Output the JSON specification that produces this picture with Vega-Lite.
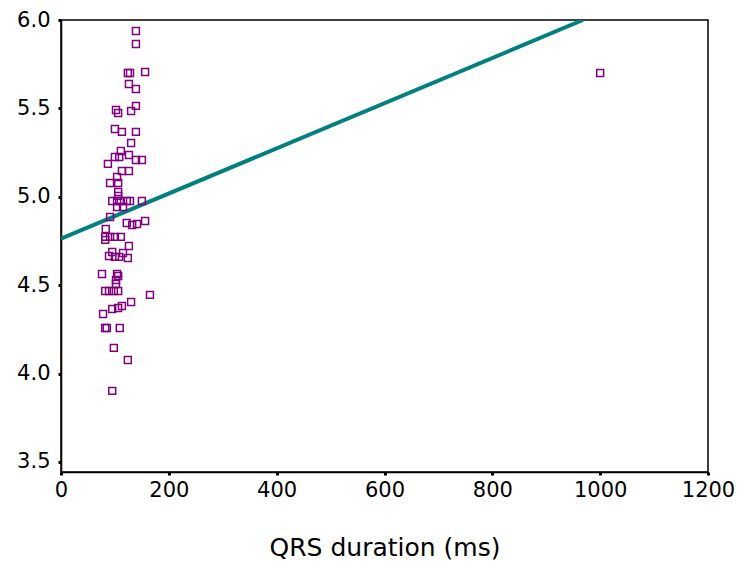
{
  "$schema": "https://vega.github.io/schema/vega-lite/v6.json",
  "width": 647,
  "height": 452,
  "autosize": "none",
  "padding": {"left": 61, "top": 20, "right": 30, "bottom": 97},
  "background": "white",
  "config": {
    "view": {"stroke": "black", "strokeWidth": 1.5},
    "font": "DejaVu Sans",
    "axis": {
      "grid": false,
      "domainColor": "black",
      "domainWidth": 1.5,
      "tickColor": "black",
      "tickWidth": 3,
      "tickSize": 3,
      "labelFont": "DejaVu Sans",
      "labelFontSize": 21,
      "labelColor": "black",
      "titleFont": "DejaVu Sans",
      "titleColor": "black",
      "titleFontWeight": "normal"
    }
  },
  "datasets": {
    "pts": [
      {"qrs": 139, "v": 5.938}, {"qrs": 139, "v": 5.864}, {"qrs": 124, "v": 5.700}, {"qrs": 128, "v": 5.700},
      {"qrs": 156, "v": 5.706}, {"qrs": 126, "v": 5.638}, {"qrs": 139, "v": 5.610}, {"qrs": 139, "v": 5.514},
      {"qrs": 130, "v": 5.485}, {"qrs": 102, "v": 5.491}, {"qrs": 106, "v": 5.474}, {"qrs": 100, "v": 5.383},
      {"qrs": 113, "v": 5.367}, {"qrs": 139, "v": 5.367}, {"qrs": 130, "v": 5.304}, {"qrs": 111, "v": 5.259},
      {"qrs": 100, "v": 5.225}, {"qrs": 108, "v": 5.225}, {"qrs": 126, "v": 5.236}, {"qrs": 139, "v": 5.208},
      {"qrs": 150, "v": 5.208}, {"qrs": 87, "v": 5.186}, {"qrs": 113, "v": 5.146}, {"qrs": 126, "v": 5.146},
      {"qrs": 104, "v": 5.112}, {"qrs": 91, "v": 5.078}, {"qrs": 106, "v": 5.078}, {"qrs": 106, "v": 5.027},
      {"qrs": 106, "v": 5.005}, {"qrs": 95, "v": 4.976}, {"qrs": 104, "v": 4.976}, {"qrs": 111, "v": 4.976},
      {"qrs": 122, "v": 4.976}, {"qrs": 128, "v": 4.976}, {"qrs": 150, "v": 4.976}, {"qrs": 115, "v": 4.942},
      {"qrs": 104, "v": 4.942}, {"qrs": 91, "v": 4.886}, {"qrs": 122, "v": 4.852}, {"qrs": 132, "v": 4.840},
      {"qrs": 141, "v": 4.846}, {"qrs": 156, "v": 4.863}, {"qrs": 83, "v": 4.818}, {"qrs": 82, "v": 4.773},
      {"qrs": 91, "v": 4.773}, {"qrs": 100, "v": 4.773}, {"qrs": 111, "v": 4.773}, {"qrs": 82, "v": 4.756},
      {"qrs": 126, "v": 4.722}, {"qrs": 95, "v": 4.688}, {"qrs": 115, "v": 4.682}, {"qrs": 89, "v": 4.665},
      {"qrs": 100, "v": 4.660}, {"qrs": 108, "v": 4.660}, {"qrs": 124, "v": 4.654}, {"qrs": 76, "v": 4.563},
      {"qrs": 104, "v": 4.563}, {"qrs": 106, "v": 4.552}, {"qrs": 102, "v": 4.529}, {"qrs": 102, "v": 4.507},
      {"qrs": 82, "v": 4.467}, {"qrs": 89, "v": 4.467}, {"qrs": 98, "v": 4.467}, {"qrs": 106, "v": 4.467},
      {"qrs": 165, "v": 4.445}, {"qrs": 130, "v": 4.405}, {"qrs": 113, "v": 4.382}, {"qrs": 106, "v": 4.371},
      {"qrs": 95, "v": 4.365}, {"qrs": 78, "v": 4.337}, {"qrs": 82, "v": 4.258}, {"qrs": 85, "v": 4.258},
      {"qrs": 109, "v": 4.258}, {"qrs": 98, "v": 4.145}, {"qrs": 124, "v": 4.077}, {"qrs": 95, "v": 3.902},
      {"qrs": 1000, "v": 5.700}
    ],
    "fit": [
      {"qrs": 0, "v": 4.763},
      {"qrs": 968, "v": 6.0}
    ]
  },
  "layer": [
    {
      "data": {"name": "fit"},
      "mark": {"type": "line", "color": "#00807f", "strokeWidth": 4, "clip": true},
      "encoding": {
        "x": {"field": "qrs", "type": "quantitative"},
        "y": {"field": "v", "type": "quantitative"}
      }
    },
    {
      "data": {"name": "pts"},
      "mark": {"type": "point", "shape": "square", "filled": false, "color": "#800080", "size": 48, "strokeWidth": 1.5, "opacity": 1},
      "encoding": {
        "x": {
          "field": "qrs", "type": "quantitative",
          "scale": {"domain": [0, 1200], "nice": false, "zero": false},
          "axis": {"values": [0, 200, 400, 600, 800, 1000, 1200], "format": "d", "title": "QRS duration (ms)", "titleFontSize": 25, "titlePadding": 35, "labelPadding": 4, "labelFlush": false}
        },
        "y": {
          "field": "v", "type": "quantitative",
          "scale": {"domain": [3.443, 6.0], "nice": false, "zero": false},
          "axis": {"values": [3.5, 4.0, 4.5, 5.0, 5.5, 6.0], "format": ".1f", "title": null, "labelPadding": 8, "labelFlush": false}
        }
      }
    }
  ]
}
